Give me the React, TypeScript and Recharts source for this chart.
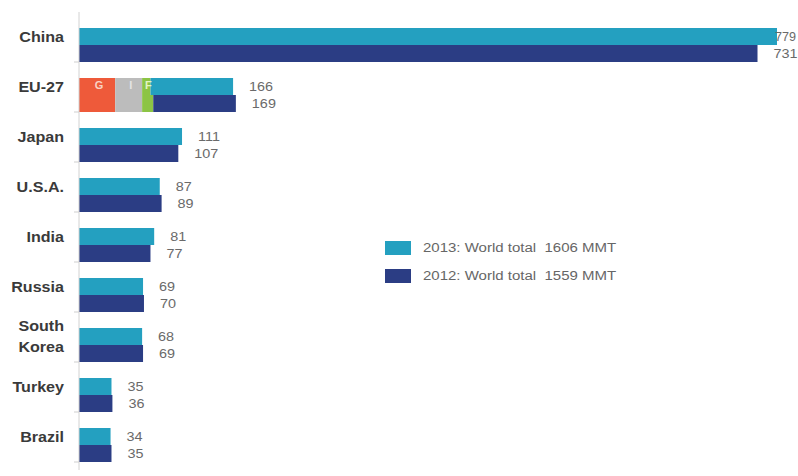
import React from 'react';
import { BarChart, Bar, XAxis, YAxis, LabelList, Legend } from 'recharts';

const categories = ['China', 'EU-27', 'Japan', 'U.S.A.', 'India', 'Russia', 'South Korea', 'Turkey', 'Brazil'];
const values2013 = [779, 166, 111, 87, 81, 69, 68, 35, 34];
const values2012 = [731, 169, 107, 89, 77, 70, 69, 36, 35];
const euCategory = 'EU-27';
const euMembers = ['G', 'I', 'F'];
const euMembers2013 = [39, 29, 9];
const euMembers2012 = [39, 29, 12];
const legendLabels = ['2013: World total  1606 MMT', '2012: World total  1559 MMT'];
const xDomainMax = 752;

const COLOR_2013 = '#24a0c0';
const COLOR_2012 = '#2b3d84';
const MEMBER_COLORS = ['#ee5a3a', '#bcbcbc', '#8cc445'];
const MEMBER_TEXT = ['#f9d2c4', '#e4e4e4', '#e2f4c4'];
const FONT = '"Liberation Sans", Arial, Helvetica, sans-serif';

const CHART_W = 798;
const CHART_H = 476;
const MARGIN = { top: 12, right: 21, bottom: 6, left: 0 };
const PLOT_RIGHT = CHART_W - MARGIN.right;

const data = categories.map((name, i) => {
  const isEu = name === euCategory;
  const row: Record<string, any> = { name, total13: values2013[i], total12: values2012[i] };
  let s13 = 0;
  let s12 = 0;
  euMembers.forEach((_, m) => {
    const v13 = isEu ? euMembers2013[m] : 0;
    const v12 = isEu ? euMembers2012[m] : 0;
    row[`m${m}_13`] = v13;
    row[`m${m}_12`] = v12;
    s13 += v13;
    s12 += v12;
  });
  row.rest13 = values2013[i] - s13;
  row.rest12 = values2012[i] - s12;
  return row;
});

const CategoryTick = (props: any) => {
  const { x, y, payload } = props;
  const lines = String(payload.value).split(' ');
  return (
    <g>
      <line x1={x - 5} x2={x} y1={y + 17} y2={y + 17} stroke="#cfcfcf" />
      <g transform={`translate(${x - 15},${y - 8}) scale(1.15,1)`}>
        <text textAnchor="end" fontFamily={FONT} fontWeight="bold" fontSize={14} fill="#3a3a3a">
          {lines.map((l, i) => (
            <tspan key={i} x={0} y={(i - (lines.length - 1) / 2) * 21} dy="0.35em">
              {l}
            </tspan>
          ))}
        </text>
      </g>
    </g>
  );
};

const ValueLabel = (props: any) => {
  const { x, y, width, height, value } = props;
  const end = Number(x) + Number(width);
  const clipped = end >= PLOT_RIGHT - 1;
  const lx = clipped ? CHART_W - 2 : end + 16;
  return (
    <g transform={`translate(${lx},${Number(y) + Number(height) / 2}) scale(${clipped ? 1.05 : 1.2},1)`}>
      <text dy="0.35em" textAnchor={clipped ? 'end' : 'start'} fontFamily={FONT} fontSize={12} fill="#6a6a6a">
        {value}
      </text>
    </g>
  );
};

const memberLetter = (m: number) => (props: any) => {
  const { x, y, width, height, value } = props;
  if (!value) return null;
  return (
    <text
      x={Number(x) + Number(width) / 2 + 2}
      y={Number(y) + Number(height) / 2 - 1}
      dy="0.35em"
      textAnchor="middle"
      fontFamily={FONT}
      fontWeight="bold"
      fontSize={11}
      fill={MEMBER_TEXT[m]}
    >
      {euMembers[m]}
    </text>
  );
};

const LegendContent = () => (
  <div style={{ fontFamily: FONT }}>
    {legendLabels.map((label, i) => (
      <div key={label} style={{ display: 'flex', alignItems: 'center', height: 28 }}>
        <span
          style={{
            display: 'inline-block',
            width: 26,
            height: 14,
            background: i === 0 ? COLOR_2013 : COLOR_2012,
            marginRight: 12,
          }}
        />
        <span
          style={{
            fontSize: 12,
            color: '#666',
            whiteSpace: 'pre',
            display: 'inline-block',
            transform: 'scaleX(1.25)',
            transformOrigin: 'left center',
          }}
        >
          {label}
        </span>
      </div>
    ))}
  </div>
);

export default function App() {
  return (
    <div style={{ position: 'absolute', left: 0, top: 0, width: CHART_W, height: CHART_H, background: '#fff' }}>
      <BarChart
        width={CHART_W}
        height={CHART_H}
        data={data}
        layout="vertical"
        margin={MARGIN}
        barGap={0}
        barCategoryGap="16%"
      >
        <XAxis type="number" hide domain={[0, xDomainMax]} allowDataOverflow />
        <YAxis
          type="category"
          dataKey="name"
          width={79}
          tickSize={0}
          tickMargin={0}
          tickLine={false}
          axisLine={{ stroke: '#d2d2d2' }}
          padding={{ top: 8, bottom: 0 }}
          tick={<CategoryTick />}
          interval={0}
        />
        <Legend
          layout="vertical"
          verticalAlign="middle"
          align="center"
          content={<LegendContent />}
          wrapperStyle={{ left: 385, top: 234, width: 300, height: 56 }}
        />
        {euMembers.map((_, m) => (
          <Bar key={`a${m}`} dataKey={`m${m}_13`} stackId="y2013" fill={MEMBER_COLORS[m]} isAnimationActive={false}>
            <LabelList dataKey={`m${m}_13`} content={memberLetter(m)} />
          </Bar>
        ))}
        <Bar dataKey="rest13" stackId="y2013" fill={COLOR_2013} isAnimationActive={false}>
          <LabelList dataKey="total13" content={<ValueLabel />} />
        </Bar>
        {euMembers.map((_, m) => (
          <Bar key={`b${m}`} dataKey={`m${m}_12`} stackId="y2012" fill={MEMBER_COLORS[m]} isAnimationActive={false} />
        ))}
        <Bar dataKey="rest12" stackId="y2012" fill={COLOR_2012} isAnimationActive={false}>
          <LabelList dataKey="total12" content={<ValueLabel />} />
        </Bar>
      </BarChart>
    </div>
  );
}
